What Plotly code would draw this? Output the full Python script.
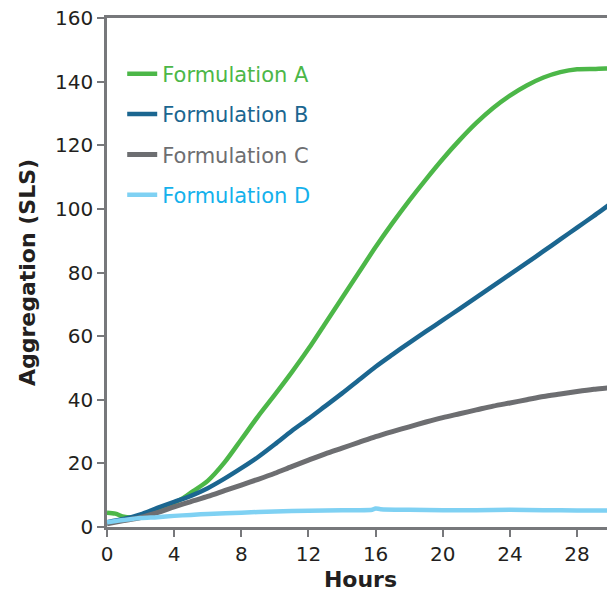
import plotly.graph_objects as go

hours_a = [0, 0.5, 1, 1.5, 2, 3, 4, 4.5, 5, 6, 7, 8, 9, 10, 11, 12, 13, 14, 15, 16, 17, 18, 19, 20, 21, 22, 23, 24, 25, 26, 27, 28, 29, 30, 30.2]
form_a = [4.5, 4.2, 3.2, 3.0, 3.4, 5.2, 7.6, 9.0, 10.8, 14.5, 20.3, 27.5, 34.8, 41.6, 48.6, 56.0, 64.0, 72.0, 80.0, 88.0, 95.5, 102.6, 109.3, 115.7, 121.6, 127.0, 131.7, 135.6, 138.8, 141.3, 143.0, 143.9, 144.0, 144.0, 143.2]

hours_b = [0, 1, 2, 3, 4, 5, 6, 7, 8, 9, 10, 11, 12, 13, 14, 15, 16, 17, 18, 19, 20, 21, 22, 23, 24, 25, 26, 27, 28, 29, 30, 30.2]
form_b = [1.5, 2.5, 4.0, 6.0, 7.9, 9.8, 12.2, 15.2, 18.5, 22.0, 26.0, 30.2, 34.0, 38.0, 42.0, 46.2, 50.4, 54.2, 57.9, 61.5, 65.0, 68.6, 72.2, 75.8, 79.4, 83.0, 86.7, 90.4, 94.1, 97.8, 101.6, 102.3]

hours_c = [0, 1, 2, 3, 4, 5, 6, 7, 8, 9, 10, 11, 12, 13, 14, 15, 16, 17, 18, 19, 20, 21, 22, 23, 24, 25, 26, 27, 28, 29, 30, 30.2]
form_c = [1.0, 2.0, 3.0, 4.5, 6.3, 8.0, 9.6, 11.4, 13.2, 15.0, 16.9, 19.0, 21.0, 23.0, 24.8, 26.6, 28.4, 30.0, 31.5, 33.0, 34.4, 35.6, 36.8, 38.0, 39.0, 40.0, 41.0, 41.8, 42.6, 43.3, 43.8, 44.0]

hours_d = [0, 1, 2, 3, 4, 5, 6, 8, 10, 12, 14, 15.8, 16, 16.3, 18, 20, 22, 24, 26, 28, 30.2]
form_d = [1.5, 2.2, 2.8, 3.1, 3.5, 3.8, 4.1, 4.5, 4.9, 5.1, 5.3, 5.4, 5.8, 5.6, 5.4, 5.3, 5.3, 5.4, 5.3, 5.2, 5.2]

x_ticks = [0, 4, 8, 12, 16, 20, 24, 28]
y_ticks = [0, 20, 40, 60, 80, 100, 120, 140, 160]

series = [
    ("Formulation A", hours_a, form_a, "#4cb748", "#4cb748", 4.5),
    ("Formulation B", hours_b, form_b, "#1b6690", "#1b6690", 4.5),
    ("Formulation C", hours_c, form_c, "#6d6e71", "#6d6e71", 5),
    ("Formulation D", hours_d, form_d, "#7fd1f3", "#14b1ec", 4.5),
]

FONT = "DejaVu Sans"
fig = go.Figure()
for i, (name, xs, ys, col, tcol, w) in enumerate(series):
    fig.add_trace(go.Scatter(
        x=xs, y=ys, mode="lines",
        name=f"<span style='color:{tcol}'>{name}</span>",
        line=dict(color=col, width=w, shape="spline", smoothing=0.8),
        legendgroup=f"g{i}",
    ))

axis_col = "#77787b"
# page body has an 8px default margin, so the figure is sized 8px smaller
fig.update_layout(
    width=607, height=584,
    margin=dict(l=99, r=1, t=10, b=65, autoexpand=False),
    paper_bgcolor="white", plot_bgcolor="white",
    font=dict(family=FONT, size=20, color="#231f20"),
    showlegend=True,
    legend=dict(
        x=0.03, y=0.93, xanchor="left", yanchor="top",
        traceorder="grouped", tracegroupgap=10,
        font=dict(family=FONT, size=21),
        bgcolor="rgba(0,0,0,0)",
    ),
    xaxis=dict(
        range=[0, 30.2], tickvals=x_ticks, ticktext=[str(v) for v in x_ticks],
        showgrid=False, zeroline=False, automargin=False,
        showline=True, linecolor=axis_col, linewidth=2.5, mirror=True,
        ticks="outside", ticklen=7, tickwidth=1.5, tickcolor=axis_col,
        ticklabeloverflow="allow",
        title=dict(text="<b>Hours</b>", font=dict(size=22, family=FONT), standoff=10),
    ),
    yaxis=dict(
        range=[0, 160], tickvals=y_ticks, ticktext=[str(v) for v in y_ticks],
        showgrid=False, zeroline=False, automargin=False,
        showline=True, linecolor=axis_col, linewidth=2.5, mirror=True,
        ticks="outside", ticklen=7, tickwidth=1.5, tickcolor=axis_col,
        ticklabeloverflow="allow",
        title=dict(text="<b>Aggregation (SLS)</b>", font=dict(size=22, family=FONT), standoff=14),
    ),
)

fig.write_html("out.html")
